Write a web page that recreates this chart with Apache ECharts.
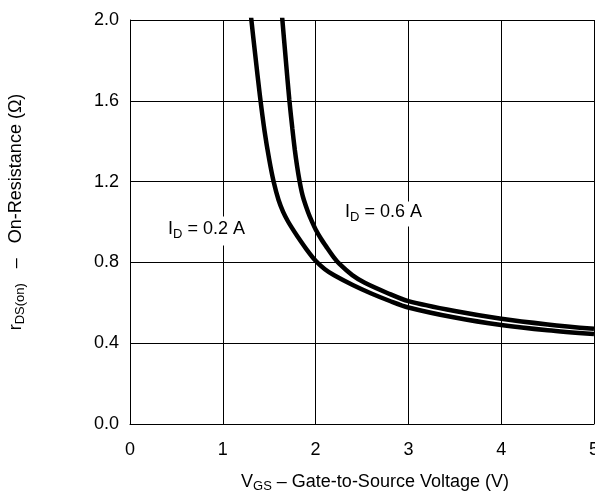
<!DOCTYPE html>
<html>
<head>
<meta charset="utf-8">
<script src="https://cdn.jsdelivr.net/npm/echarts@6/dist/echarts.min.js"></script>
<style>
  html, body { margin: 0; padding: 0; background: #fff; }
  #chart { width: 595px; height: 493px; }
</style>
</head>
<body>
<div id="chart"></div>
<script>
// On-resistance vs. gate-to-source voltage, two drain currents
const vgsLow = [1.26, 1.308, 1.35, 1.40, 1.45, 1.50, 1.55, 1.60, 1.65, 1.70, 1.75, 1.80, 1.90, 2.00, 2.10, 2.20, 2.40, 2.60, 2.80, 3.00, 3.50, 4.00, 4.50, 5.00];
const rdsLow = [2.21, 2.00, 1.825, 1.625, 1.45, 1.31, 1.195, 1.11, 1.05, 1.005, 0.967, 0.932, 0.866, 0.808, 0.766, 0.736, 0.688, 0.646, 0.609, 0.577, 0.527, 0.490, 0.464, 0.445];

const vgsHigh = [1.606, 1.642, 1.679, 1.717, 1.75, 1.776, 1.80, 1.825, 1.85, 1.873, 1.921, 1.96, 2.002, 2.06, 2.115, 2.19, 2.26, 2.395, 2.53, 2.766, 3.00, 3.50, 4.00, 4.50, 5.00];
const rdsHigh = [2.19, 2.00, 1.802, 1.604, 1.46, 1.357, 1.278, 1.208, 1.15, 1.11, 1.046, 1.003, 0.962, 0.916, 0.878, 0.829, 0.791, 0.737, 0.699, 0.650, 0.608, 0.559, 0.521, 0.493, 0.471];

const xMin = 0, xMax = 5, xStep = 1;
const yMin = 0, yMax = 2.0, yStep = 0.4;

const FONT = '"Liberation Sans", Arial, Helvetica, sans-serif';

const zip = (xs, ys) => xs.map((x, i) => [x, ys[i]]);

const richStyles = {
  v: { fontSize: 18, fontFamily: FONT, color: '#000', lineHeight: 22, verticalAlign: 'top' },
  sub: { fontSize: 13, fontFamily: FONT, color: '#000', lineHeight: 16, padding: [7, 0, 0, 0], verticalAlign: 'top' }
};

const chart = echarts.init(document.getElementById('chart'), null, { renderer: 'canvas' });

const axisCommon = {
  type: 'value',
  axisLine: { show: true, lineStyle: { color: '#000', width: 1 } },
  axisTick: { show: false },
  splitLine: { show: true, showMinLine: true, showMaxLine: true, lineStyle: { color: '#000', width: 1 } }
};

chart.setOption({
  animation: false,
  backgroundColor: '#fff',
  grid: { left: 130, right: 1, top: 20, bottom: 69, containLabel: false, outerBoundsMode: 'none' },
  xAxis: Object.assign({}, axisCommon, {
    min: xMin, max: xMax, interval: xStep,
    axisLabel: { fontSize: 18, fontFamily: FONT, color: '#000', margin: 17 }
  }),
  yAxis: Object.assign({}, axisCommon, {
    min: yMin, max: yMax, interval: yStep,
    axisLabel: { fontSize: 18, fontFamily: FONT, color: '#000', margin: 11, formatter: v => v.toFixed(1) }
  }),
  series: [
    {
      name: 'ID = 0.2 A', type: 'line', data: zip(vgsLow, rdsLow),
      symbol: 'none', smooth: 0.3, clip: true,
      lineStyle: { color: '#000', width: 4.5 }
    },
    {
      name: 'ID = 0.6 A', type: 'line', data: zip(vgsHigh, rdsHigh),
      symbol: 'none', smooth: 0.3, clip: true,
      lineStyle: { color: '#000', width: 4.5 }
    }
  ],
  graphic: [
    {
      type: 'text', x: 375, y: 484, z: 100,
      style: { text: '{v|V}{sub|GS}{v| – Gate-to-Source Voltage (V)}', rich: richStyles, align: 'center', verticalAlign: 'middle' }
    },
    {
      type: 'text', x: 18, y: 212, rotation: Math.PI / 2, z: 100,
      style: { text: '{v|r}{sub|DS(on)}{v|   –   On-Resistance (Ω)}', rich: richStyles, align: 'center', verticalAlign: 'middle' }
    },
    {
      type: 'text', x: 166, y: 231, z: 100,
      style: { text: '{v|I}{sub|D}{v| = 0.2 A}', rich: richStyles, align: 'left', verticalAlign: 'middle',
               backgroundColor: '#fff', padding: [4, 2, 3, 2] }
    },
    {
      type: 'text', x: 343, y: 214, z: 100,
      style: { text: '{v|I}{sub|D}{v| = 0.6 A}', rich: richStyles, align: 'left', verticalAlign: 'middle',
               backgroundColor: '#fff', padding: [2, 2, 1, 2] }
    }
  ]
});
</script>
</body>
</html>
